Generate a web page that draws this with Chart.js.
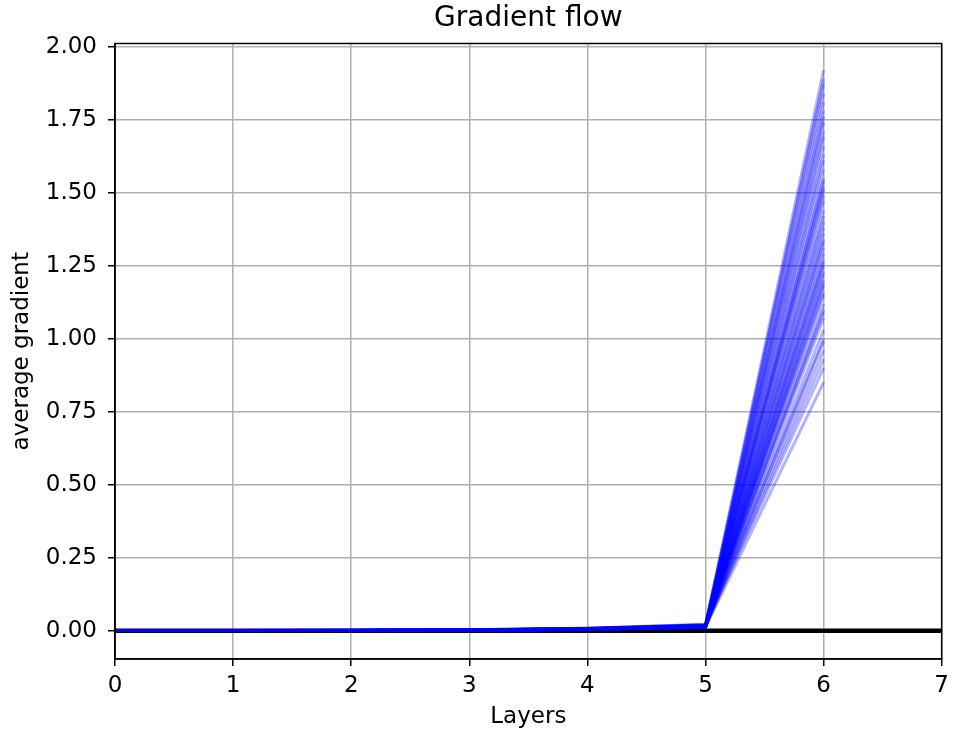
<!DOCTYPE html>
<html>
<head>
<meta charset="utf-8">
<script src="https://cdn.jsdelivr.net/npm/chart.js@4"></script>
<style>
  body { margin: 0; background: #fff; }
</style>
</head>
<body>
<canvas id="gradchart" width="955" height="731"></canvas>
<script>
// average gradient per layer, one entry per recorded step
var layer0 = [0.0006, 0.0004, 0.0008, 0.0005, 0.0007, 0.0003, 0.0006, 0.0009, 0.0004, 0.0005, 0.0007, 0.0006, 0.0003, 0.0008, 0.0005, 0.0004, 0.0006, 0.0007, 0.0005, 0.0003, 0.0006, 0.0004, 0.0008, 0.0005, 0.0006, 0.0007, 0.0004, 0.0005, 0.0003, 0.0006, 0.0005, 0.0004, 0.0007, 0.0003, 0.0005, 0.0006, 0.0004, 0.0007, 0.0005, 0.0003, 0.0006, 0.0008, 0.0004, 0.0005, 0.0006, 0.0007, 0.0004, 0.0005, 0.0006, 0.0003];
var layer1 = [0.0007, 0.0005, 0.0009, 0.0006, 0.0008, 0.0004, 0.0007, 0.0010, 0.0005, 0.0006, 0.0008, 0.0007, 0.0004, 0.0009, 0.0006, 0.0005, 0.0007, 0.0008, 0.0006, 0.0004, 0.0007, 0.0005, 0.0009, 0.0006, 0.0007, 0.0008, 0.0005, 0.0006, 0.0004, 0.0007, 0.0006, 0.0005, 0.0008, 0.0004, 0.0006, 0.0007, 0.0005, 0.0008, 0.0006, 0.0004, 0.0007, 0.0009, 0.0005, 0.0006, 0.0007, 0.0008, 0.0005, 0.0006, 0.0007, 0.0004];
var layer2 = [0.0009, 0.0007, 0.0012, 0.0008, 0.0010, 0.0006, 0.0009, 0.0013, 0.0007, 0.0008, 0.0011, 0.0009, 0.0006, 0.0012, 0.0008, 0.0007, 0.0009, 0.0010, 0.0008, 0.0006, 0.0009, 0.0007, 0.0011, 0.0008, 0.0009, 0.0010, 0.0007, 0.0008, 0.0006, 0.0009, 0.0008, 0.0007, 0.0010, 0.0006, 0.0008, 0.0009, 0.0007, 0.0011, 0.0008, 0.0006, 0.0009, 0.0012, 0.0007, 0.0008, 0.0009, 0.0010, 0.0007, 0.0008, 0.0009, 0.0006];
var layer3 = [0.0022, 0.0018, 0.0030, 0.0016, 0.0025, 0.0012, 0.0021, 0.0033, 0.0015, 0.0019, 0.0027, 0.0020, 0.0013, 0.0029, 0.0017, 0.0014, 0.0023, 0.0026, 0.0018, 0.0011, 0.0022, 0.0016, 0.0028, 0.0019, 0.0021, 0.0024, 0.0015, 0.0018, 0.0012, 0.0020, 0.0017, 0.0014, 0.0025, 0.0011, 0.0016, 0.0021, 0.0015, 0.0026, 0.0018, 0.0012, 0.0022, 0.0029, 0.0014, 0.0019, 0.0023, 0.0025, 0.0016, 0.0018, 0.0020, 0.0013];
var layer4 = [0.0068, 0.0055, 0.0079, 0.0049, 0.0071, 0.0038, 0.0062, 0.0084, 0.0046, 0.0058, 0.0075, 0.0064, 0.0041, 0.0080, 0.0052, 0.0044, 0.0066, 0.0072, 0.0056, 0.0035, 0.0063, 0.0050, 0.0077, 0.0057, 0.0061, 0.0069, 0.0045, 0.0053, 0.0037, 0.0060, 0.0051, 0.0043, 0.0070, 0.0034, 0.0048, 0.0065, 0.0047, 0.0073, 0.0054, 0.0039, 0.0067, 0.0078, 0.0042, 0.0059, 0.0064, 0.0070, 0.0049, 0.0055, 0.0061, 0.0040];
var layer5 = [0.019, 0.017, 0.021, 0.015, 0.018, 0.012, 0.016, 0.022, 0.014, 0.017, 0.013, 0.019, 0.015, 0.011, 0.018, 0.016, 0.014, 0.020, 0.012, 0.017, 0.015, 0.013, 0.019, 0.016, 0.011, 0.014, 0.018, 0.012, 0.015, 0.013, 0.017, 0.010, 0.014, 0.012, 0.011, 0.016, 0.013, 0.018, 0.015, 0.012, 0.017, 0.020, 0.014, 0.016, 0.015, 0.018, 0.013, 0.014, 0.016, 0.012];
var layer6 = [1.92, 1.89, 1.87, 1.84, 1.81, 1.78, 1.76, 1.74, 1.71, 1.69, 1.66, 1.63, 1.61, 1.58, 1.55, 1.54, 1.52, 1.51, 1.49, 1.47, 1.44, 1.42, 1.40, 1.38, 1.36, 1.34, 1.33, 1.31, 1.29, 1.27, 1.26, 1.25, 1.23, 1.22, 1.20, 1.19, 1.18, 1.16, 1.15, 1.12, 1.10, 1.09, 1.07, 1.03, 1.00, 0.99, 0.96, 0.93, 0.90, 0.85];

var layerIndex = [0, 1, 2, 3, 4, 5, 6];
var zeroLineX = [0, 7];
var xTicks = [0, 1, 2, 3, 4, 5, 6, 7];
var yTicks = [0, 0.25, 0.5, 0.75, 1.0, 1.25, 1.5, 1.75, 2.0];

var layers = [layer0, layer1, layer2, layer3, layer4, layer5, layer6];

var datasets = [];
for (var i = 0; i < layer6.length; i++) {
    datasets.push({
        data: layerIndex.map(function(x) { return { x: x, y: layers[x][i] }; }),
        borderColor: 'rgba(0, 0, 255, 0.3)',
        borderWidth: 3,
        pointRadius: 0,
        tension: 0,
        order: 0
    });
}
// horizontal zero line, drawn under the gradient lines
datasets.push({
    data: zeroLineX.map(function(x) { return { x: x, y: 0 }; }),
    borderColor: '#000',
    borderWidth: 4.5,
    pointRadius: 0,
    order: 1
});

// top and right spines like matplotlib
var frame = {
    id: 'frame',
    afterDraw: function(chart) {
        var a = chart.chartArea, c = chart.ctx;
        c.save();
        c.strokeStyle = '#000';
        c.lineWidth = 1.5;
        c.strokeRect(a.left, a.top, a.right - a.left, a.bottom - a.top);
        c.restore();
    }
};

var font = { family: 'DejaVu Sans', size: 23 };

new Chart(document.getElementById('gradchart').getContext('2d'), {
    type: 'line',
    data: { datasets: datasets },
    plugins: [frame],
    options: {
        responsive: false,
        animation: false,
        devicePixelRatio: 1,
        layout: { padding: { top: 0, right: 13, left: 0, bottom: 0 } },
        plugins: {
            legend: { display: false },
            tooltip: { enabled: false },
            title: {
                display: true,
                fullSize: false,
                text: 'Gradient flow',
                color: '#000',
                font: { family: 'DejaVu Sans', size: 28, weight: 'normal' },
                padding: { top: 1.5, bottom: 8.4 }
            }
        },
        scales: {
            x: {
                type: 'linear',
                min: 0,
                max: 7,
                afterBuildTicks: function(s) { s.ticks = xTicks.map(function(v) { return { value: v }; }); },
                afterFit: function(s) { s.height = 72; },
                ticks: { color: '#000', font: font, padding: 6, maxRotation: 0 },
                grid: { color: '#b0b0b0', lineWidth: 1.5, tickColor: '#000', tickLength: 7, tickWidth: 1.5 },
                border: { color: '#000', width: 1.5 },
                title: { display: true, text: 'Layers', color: '#000', font: font, padding: { top: 0, bottom: 0 } }
            },
            y: {
                type: 'linear',
                min: -0.097,
                max: 2.011,
                afterBuildTicks: function(s) { s.ticks = yTicks.map(function(v) { return { value: v }; }); },
                afterFit: function(s) { s.width = 115; },
                ticks: {
                    color: '#000', font: font, padding: 11,
                    callback: function(v) { return v.toFixed(2); }
                },
                grid: { color: '#b0b0b0', lineWidth: 1.5, tickColor: '#000', tickLength: 7, tickWidth: 1.5 },
                border: { color: '#000', width: 1.5 },
                title: { display: true, text: 'average gradient', color: '#000', font: font, padding: { top: 8, bottom: 0 } }
            }
        }
    }
});
</script>
</body>
</html>
